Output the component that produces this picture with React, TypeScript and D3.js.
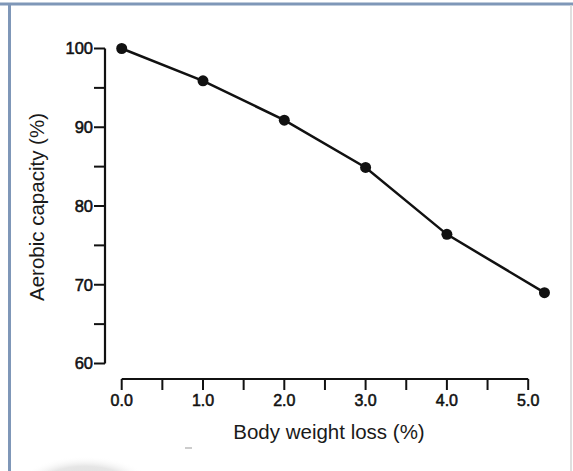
import React from "react";
import * as d3 from "d3";

const bodyWeightLoss = [0, 1, 2, 3, 4, 5.2];
const aerobicCapacity = [100, 95.9, 90.9, 84.9, 76.4, 69.0];
const xMajorTicks = [0, 1, 2, 3, 4, 5];
const xMinorTicks = [0.5, 1.5, 2.5, 3.5, 4.5];
const yMajorTicks = [60, 70, 80, 90, 100];
const yMinorTicks = [65, 75, 85, 95];
const xTitle = "Body weight loss (%)";
const yTitle = "Aerobic capacity (%)";

export default function App() {
  const W = 573;
  const H = 471;
  const x = d3.scaleLinear().domain([0, 5]).range([121.7, 528.2]);
  const y = d3.scaleLinear().domain([60, 100]).range([363.5, 48.5]);
  const axisX = 105;
  const axisY = 379;
  const tickLen = 11;
  const pts = bodyWeightLoss.map((v, i) => [v, aerobicCapacity[i]] as [number, number]);
  const line = d3
    .line<[number, number]>()
    .x((d) => x(d[0]))
    .y((d) => y(d[1]));
  const font = "'Liberation Sans', Arial, Helvetica, sans-serif";
  const fmt = d3.format(".1f");

  return (
    <svg
      width={W}
      height={H}
      viewBox={`0 0 ${W} ${H}`}
      style={{ position: "absolute", left: 0, top: 0, background: "#fff" }}
    >
      <defs>
        <radialGradient id="glare" cx="50%" cy="50%" r="50%">
          <stop offset="0%" stopColor="#d6d6d6" />
          <stop offset="70%" stopColor="#e6e6e6" />
          <stop offset="100%" stopColor="#ffffff" stopOpacity={0} />
        </radialGradient>
      </defs>
      <rect x={0} y={0} width={W} height={H} fill="#fff" />
      {/* glare in lower-left */}
      <ellipse cx={85} cy={490} rx={70} ry={34} fill="url(#glare)" />
      <line x1={185} x2={192} y1={448} y2={448} stroke="#999" strokeWidth={1} />

      {/* frame */}
      <line x1={0} x2={W} y1={4} y2={4} stroke="#7f97b8" strokeWidth={3} />
      <line x1={9.5} x2={9.5} y1={3} y2={H} stroke="#7f97b8" strokeWidth={3} />
      <line x1={571} x2={571} y1={5} y2={H} stroke="#d5d5d5" strokeWidth={1.5} />

      {/* Y axis */}
      <line x1={axisX} x2={axisX} y1={y(100)} y2={y(60)} stroke="#111" strokeWidth={2.2} />
      {yMajorTicks.map((t) => (
        <g key={"ym" + t}>
          <line x1={axisX - tickLen} x2={axisX} y1={y(t)} y2={y(t)} stroke="#111" strokeWidth={2} />
          <text
            x={93}
            y={y(t)}
            dy="0.36em"
            textAnchor="end"
            fontFamily={font}
            fontSize={16.5}
            fill="#111"
            stroke="#111"
            strokeWidth={0.55}
          >
            {t}
          </text>
        </g>
      ))}
      {yMinorTicks.map((t) => (
        <line key={"yn" + t} x1={axisX - tickLen} x2={axisX} y1={y(t)} y2={y(t)} stroke="#111" strokeWidth={2} />
      ))}

      {/* X axis */}
      <line x1={x(0)} x2={x(5)} y1={axisY} y2={axisY} stroke="#111" strokeWidth={2.2} />
      {xMajorTicks.map((t) => (
        <g key={"xm" + t}>
          <line x1={x(t)} x2={x(t)} y1={axisY} y2={axisY + tickLen} stroke="#111" strokeWidth={2} />
          <text
            x={x(t)}
            y={405.5}
            textAnchor="middle"
            fontFamily={font}
            fontSize={16}
            fill="#111"
            stroke="#111"
            strokeWidth={0.55}
          >
            {fmt(t)}
          </text>
        </g>
      ))}
      {xMinorTicks.map((t) => (
        <line key={"xn" + t} x1={x(t)} x2={x(t)} y1={axisY} y2={axisY + tickLen} stroke="#111" strokeWidth={2} />
      ))}

      {/* titles */}
      <text
        x={329}
        y={439}
        textAnchor="middle"
        fontFamily={font}
        fontSize={20.5}
        fill="#1a1a1a"
      >
        {xTitle}
      </text>
      <text
        transform={`translate(44,207) rotate(-90)`}
        textAnchor="middle"
        fontFamily={font}
        fontSize={20.5}
        fill="#1a1a1a"
      >
        {yTitle}
      </text>

      {/* data */}
      <path d={line(pts) || ""} fill="none" stroke="#111" strokeWidth={2.5} />
      {pts.map((d, i) => (
        <circle key={i} cx={x(d[0])} cy={y(d[1])} r={5.5} fill="#111" />
      ))}
    </svg>
  );
}
